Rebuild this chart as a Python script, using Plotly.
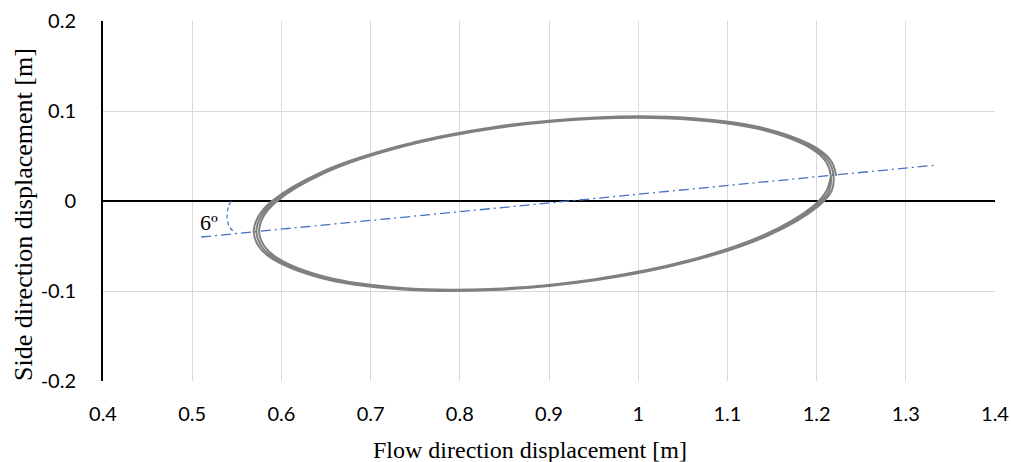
import plotly.graph_objects as go

# ---- data ----
# orbit of the body: three consecutive loops (flow x, side y), in metres
loop1_x = [1.2220, 1.2170, 1.2023, 1.1456, 1.0588, 0.9522, 0.8388, 0.7323, 0.6454, 0.5887, 0.5740,
           0.5690, 0.5740, 0.5887, 0.6454, 0.7323, 0.8388, 0.9522, 1.0588, 1.1456, 1.2023, 1.2170]
loop1_y = [0.0279, 0.0434, 0.0575, 0.0798, 0.0921, 0.0929, 0.0822, 0.0611, 0.0324, -0.0006, -0.0175,
           -0.0339, -0.0494, -0.0635, -0.0858, -0.0981, -0.0989, -0.0882, -0.0671, -0.0384, -0.0054, 0.0115]

loop2_x = [1.2190, 1.2141, 1.1995, 1.1433, 1.0573, 0.9517, 0.8393, 0.7337, 0.6477, 0.5915, 0.5769,
           0.5720, 0.5769, 0.5915, 0.6477, 0.7337, 0.8393, 0.9517, 1.0573, 1.1433, 1.1995, 1.2141]
loop2_y = [0.0277, 0.0431, 0.0570, 0.0791, 0.0913, 0.0921, 0.0815, 0.0606, 0.0321, -0.0007, -0.0174,
           -0.0337, -0.0491, -0.0630, -0.0851, -0.0973, -0.0981, -0.0875, -0.0666, -0.0381, -0.0053, 0.0114]

loop3_x = [1.2160, 1.2111, 1.1967, 1.1410, 1.0558, 0.9511, 0.8399, 0.7352, 0.6500, 0.5943, 0.5799,
           0.5750, 0.5799, 0.5943, 0.6500, 0.7352, 0.8399, 0.9511, 1.0558, 1.1410, 1.1967, 1.2111, 1.2160]
loop3_y = [0.0275, 0.0427, 0.0566, 0.0785, 0.0906, 0.0914, 0.0808, 0.0602, 0.0318, -0.0007, -0.0173,
           -0.0335, -0.0487, -0.0626, -0.0845, -0.0966, -0.0974, -0.0868, -0.0662, -0.0378, -0.0053, 0.0113, 0.0275]

# principal axis of the orbit (6 degrees)
axis_x = [0.51, 1.335]
axis_y = [-0.040, 0.040]

# angle arc marker
arc_x = [0.5435, 0.5405, 0.5392, 0.5395, 0.5420, 0.5480]
arc_y = [0.000, -0.007, -0.015, -0.022, -0.029, -0.0355]

angle_label = "6º"
angle_label_pos = (0.519, -0.0237)

x_ticks = [0.4, 0.5, 0.6, 0.7, 0.8, 0.9, 1.0, 1.1, 1.2, 1.3, 1.4]
x_ticktext = ["0.4", "0.5", "0.6", "0.7", "0.8", "0.9", "1", "1.1", "1.2", "1.3", "1.4"]
y_ticks = [-0.2, -0.1, 0.0, 0.1, 0.2]
y_ticktext = ["-0.2", "-0.1", "0", "0.1", "0.2"]

x_title = "Flow direction displacement [m]"
y_title = "Side direction displacement [m]"

orbit_x = loop1_x + loop2_x + loop3_x
orbit_y = loop1_y + loop2_y + loop3_y

fig = go.Figure()

fig.add_trace(go.Scatter(
    x=orbit_x, y=orbit_y, mode="lines",
    line=dict(color="#808080", width=2, shape="spline", smoothing=1.0),
    showlegend=False, hoverinfo="skip"))

fig.add_trace(go.Scatter(
    x=axis_x, y=axis_y, mode="lines",
    line=dict(color="#4472C4", width=1.3, dash="10px,4px,2px,4px"),
    showlegend=False, hoverinfo="skip"))

fig.add_trace(go.Scatter(
    x=arc_x, y=arc_y, mode="lines",
    line=dict(color="#4472C4", width=1.2, dash="4px,3px", shape="spline"),
    showlegend=False, hoverinfo="skip"))

tick_font = dict(family="Lato, 'Liberation Sans', sans-serif", size=20, color="#000000")
serif = "'Liberation Serif', 'Times New Roman', serif"

fig.update_layout(
    width=1011, height=462,
    margin=dict(l=103, r=16, t=21, b=81, pad=0, autoexpand=False),
    paper_bgcolor="white", plot_bgcolor="white",
    xaxis=dict(range=[0.4, 1.4], tickvals=x_ticks, ticktext=x_ticktext,
               showgrid=True, gridcolor="#d9d9d9", gridwidth=1.3,
               zeroline=False, showline=False, ticks="", automargin=False,
               tickfont=tick_font, ticklabelstandoff=19, fixedrange=True),
    yaxis=dict(range=[-0.2, 0.2], tickvals=y_ticks, ticktext=y_ticktext,
               showgrid=True, gridcolor="#d9d9d9", gridwidth=1.3,
               zeroline=True, zerolinecolor="#000000", zerolinewidth=2,
               showline=True, linecolor="#000000", linewidth=2, automargin=False,
               ticks="", tickfont=tick_font, ticklabelstandoff=21, fixedrange=True),
    annotations=[
        dict(text=x_title, xref="paper", yref="paper", x=(530 - 103) / 892, y=-(450 - 381) / 360,
             xanchor="center", yanchor="middle", showarrow=False,
             font=dict(family=serif, size=24, color="#000000")),
        dict(text=y_title, xref="paper", yref="paper", x=-(103 - 23) / 892, y=(381 - 215) / 360,
             xanchor="center", yanchor="middle", showarrow=False, textangle=-90,
             font=dict(family=serif, size=26, color="#000000")),
        dict(text=angle_label, x=angle_label_pos[0], y=angle_label_pos[1],
             xref="x", yref="y", showarrow=False, xanchor="center", yanchor="middle",
             font=dict(family=serif, size=22, color="#000000")),
    ],
)

fig.write_html("out.html", config={"displayModeBar": False},
               post_script="document.body.style.margin='0';")
